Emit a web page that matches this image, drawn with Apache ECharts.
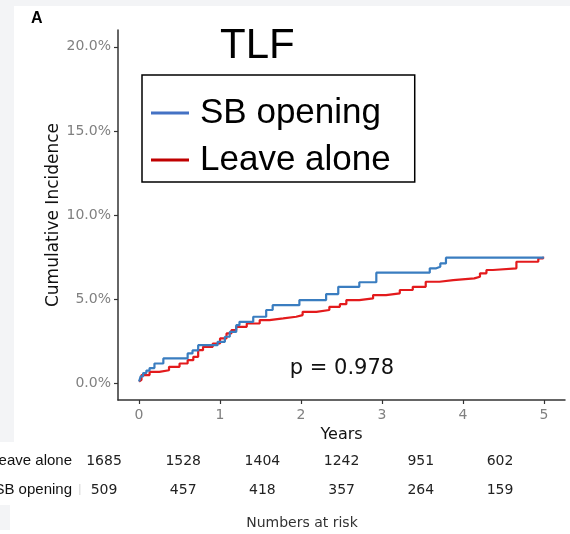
<!DOCTYPE html>
<html>
<head>
<meta charset="utf-8">
<script src="https://cdn.jsdelivr.net/npm/echarts@6/dist/echarts.min.js"></script>
<style>
  html, body { margin: 0; padding: 0; background: #ffffff; }
  #chart { width: 570px; height: 534px; }
</style>
</head>
<body>
<div id="chart"></div>
<script>
// Cumulative incidence of TLF (percent) by years of follow-up
const seriesNames = ['SB opening', 'Leave alone'];

const sbTimes  = [0, 0.02, 0.05, 0.09, 0.13, 0.19, 0.30, 0.60, 0.66, 0.73, 0.97, 1.06, 1.12, 1.20, 1.24, 1.41, 1.57, 1.65, 1.98, 2.31, 2.46, 2.72, 2.93, 3.59, 3.67, 3.72, 3.79, 5.00];
const sbValues = [0.1, 0.4, 0.6, 0.75, 0.9, 1.17, 1.47, 1.77, 1.95, 2.26, 2.46, 2.76, 3.05, 3.45, 3.65, 3.95, 4.35, 4.64, 4.94, 5.3, 5.73, 6.0, 6.57, 6.83, 6.92, 7.12, 7.46, 7.46];

const laTimes  = [0, 0.01, 0.03, 0.13, 0.25, 0.37, 0.50, 0.60, 0.67, 0.73, 0.79, 0.91, 1.00, 1.08, 1.14, 1.20, 1.33, 1.49, 1.61, 1.78, 1.94, 2.02, 2.19, 2.35, 2.48, 2.56, 2.72, 2.89, 3.05, 3.22, 3.38, 3.54, 3.71, 3.88, 4.14, 4.21, 4.29, 4.37, 4.66, 4.93, 4.99];
const laValues = [0.1, 0.2, 0.48, 0.67, 0.77, 0.97, 1.17, 1.37, 1.57, 1.96, 2.16, 2.36, 2.66, 2.96, 3.15, 3.35, 3.55, 3.75, 3.85, 3.95, 4.05, 4.24, 4.35, 4.54, 4.70, 4.94, 5.04, 5.24, 5.34, 5.54, 5.73, 6.03, 6.13, 6.23, 6.33, 6.53, 6.73, 6.83, 7.22, 7.42, 7.52];

// Numbers at risk at each yearly mark
const riskYears      = [0, 1, 2, 3, 4, 5];
const riskLeaveAlone = [1685, 1528, 1404, 1242, 951, 602];
const riskSbOpening  = [509, 457, 418, 357, 264, 159];

const yTicks = [0, 5, 10, 15, 20];
const xTicks = [0, 1, 2, 3, 4, 5];
const pValueText = 'p = 0.978';

const toPairs = (ts, vs) => ts.map((t, i) => [t, vs[i]]);

const chart = echarts.init(document.getElementById('chart'), null, { renderer: 'canvas' });

const riskColX0 = 104, riskColStep = 79.2;
const riskRows = [
  { label: 'Leave alone', values: riskLeaveAlone, y: 461 },
  { label: 'SB opening', values: riskSbOpening, y: 490 }
];

const graphics = [
  // light page margins
  { type: 'rect', shape: { x: 0, y: 0, width: 570, height: 6 }, style: { fill: '#f3f4f6' }, silent: true, z: -10 },
  { type: 'rect', shape: { x: 0, y: 0, width: 14, height: 442 }, style: { fill: '#f3f4f6' }, silent: true, z: -10 },
  { type: 'rect', shape: { x: 0, y: 505, width: 10, height: 25 }, style: { fill: '#f3f4f6' }, silent: true, z: -10 },
  { type: 'rect', shape: { x: 79, y: 484, width: 1.5, height: 11 }, style: { fill: '#e2e2e2' }, silent: true },
  {
    type: 'text', position: [342, 369],
    style: { text: pValueText, font: '21px "DejaVu Sans"', fill: '#111', textAlign: 'center', textVerticalAlign: 'middle' },
    silent: true
  },
  {
    type: 'text', position: [302, 523],
    style: { text: 'Numbers at risk', font: '14px "DejaVu Sans"', fill: '#333', textAlign: 'center', textVerticalAlign: 'middle' },
    silent: true
  }
];

riskRows.forEach(row => {
  graphics.push({
    type: 'text', position: [72, row.y],
    style: { text: row.label, font: '15px "Liberation Sans"', fill: '#111', textAlign: 'right', textVerticalAlign: 'middle' },
    silent: true
  });
  row.values.forEach((v, i) => {
    graphics.push({
      type: 'text', position: [riskColX0 + riskYears[i] * riskColStep, row.y],
      style: { text: String(v), font: '14px "DejaVu Sans"', fill: '#222', textAlign: 'center', textVerticalAlign: 'middle' },
      silent: true
    });
  });
});

const option = {
  backgroundColor: '#ffffff',
  animation: false,
  title: [
    { text: 'TLF', left: 215, top: 20, textStyle: { fontFamily: 'Liberation Sans', fontSize: 42, fontWeight: 'normal', color: '#000' } },
    { text: 'A', left: 26, top: 6, textStyle: { fontFamily: 'Liberation Sans', fontSize: 16, fontWeight: 'bold', color: '#000' } }
  ],
  legend: {
    orient: 'vertical',
    left: 142,
    top: 75,
    padding: [18, 24, 2, 9],
    itemGap: 7,
    itemWidth: 38,
    itemHeight: 3,
    borderColor: '#000',
    borderWidth: 1.5,
    borderRadius: 0,
    backgroundColor: '#fff',
    icon: 'rect',
    textStyle: { fontFamily: 'Liberation Sans', fontSize: 35, color: '#000', lineHeight: 40, padding: [0, 0, 0, 6] },
    data: [
      { name: seriesNames[0], itemStyle: { color: '#4472C4' } },
      { name: seriesNames[1], itemStyle: { color: '#C00000' } }
    ]
  },
  grid: { left: 118, right: 5, top: 30, bottom: 134, containLabel: false },
  xAxis: {
    type: 'value',
    min: -0.26,
    max: 5.26,
    name: 'Years',
    nameLocation: 'middle',
    nameGap: 26,
    nameTextStyle: { fontFamily: 'DejaVu Sans', fontSize: 16, color: '#111' },
    splitLine: { show: false },
    axisLine: { show: true, onZero: false, lineStyle: { color: '#333', width: 1.5 } },
    axisTick: { show: true, length: 4, customValues: xTicks, lineStyle: { color: '#333', width: 1.2 } },
    axisLabel: { customValues: xTicks, margin: 8, fontFamily: 'DejaVu Sans', fontSize: 14, color: '#808080' }
  },
  yAxis: {
    type: 'value',
    min: -1,
    max: 21,
    name: 'Cumulative Incidence',
    nameLocation: 'middle',
    nameRotate: 90,
    nameGap: 56,
    nameMoveOverlap: false,
    nameTextStyle: { fontFamily: 'DejaVu Sans', fontSize: 17, color: '#111' },
    splitLine: { show: false },
    axisLine: { show: true, onZero: false, lineStyle: { color: '#333', width: 1.5 } },
    axisTick: { show: true, length: 4, customValues: yTicks, lineStyle: { color: '#333', width: 1.2 } },
    axisLabel: {
      customValues: yTicks, margin: 7, fontFamily: 'DejaVu Sans', fontSize: 14, color: '#808080',
      formatter: v => v.toFixed(1) + '%'
    }
  },
  series: [
    {
      name: seriesNames[1], type: 'line', step: 'end', showSymbol: false, z: 2,
      data: toPairs(laTimes, laValues),
      lineStyle: { color: '#e31a1c', width: 2.2 }, itemStyle: { color: '#e31a1c' }
    },
    {
      name: seriesNames[0], type: 'line', step: 'end', showSymbol: false, z: 3,
      data: toPairs(sbTimes, sbValues),
      lineStyle: { color: '#3a7dc0', width: 2.2 }, itemStyle: { color: '#3a7dc0' }
    }
  ],
  graphic: graphics
};

chart.setOption(option);
</script>
</body>
</html>
